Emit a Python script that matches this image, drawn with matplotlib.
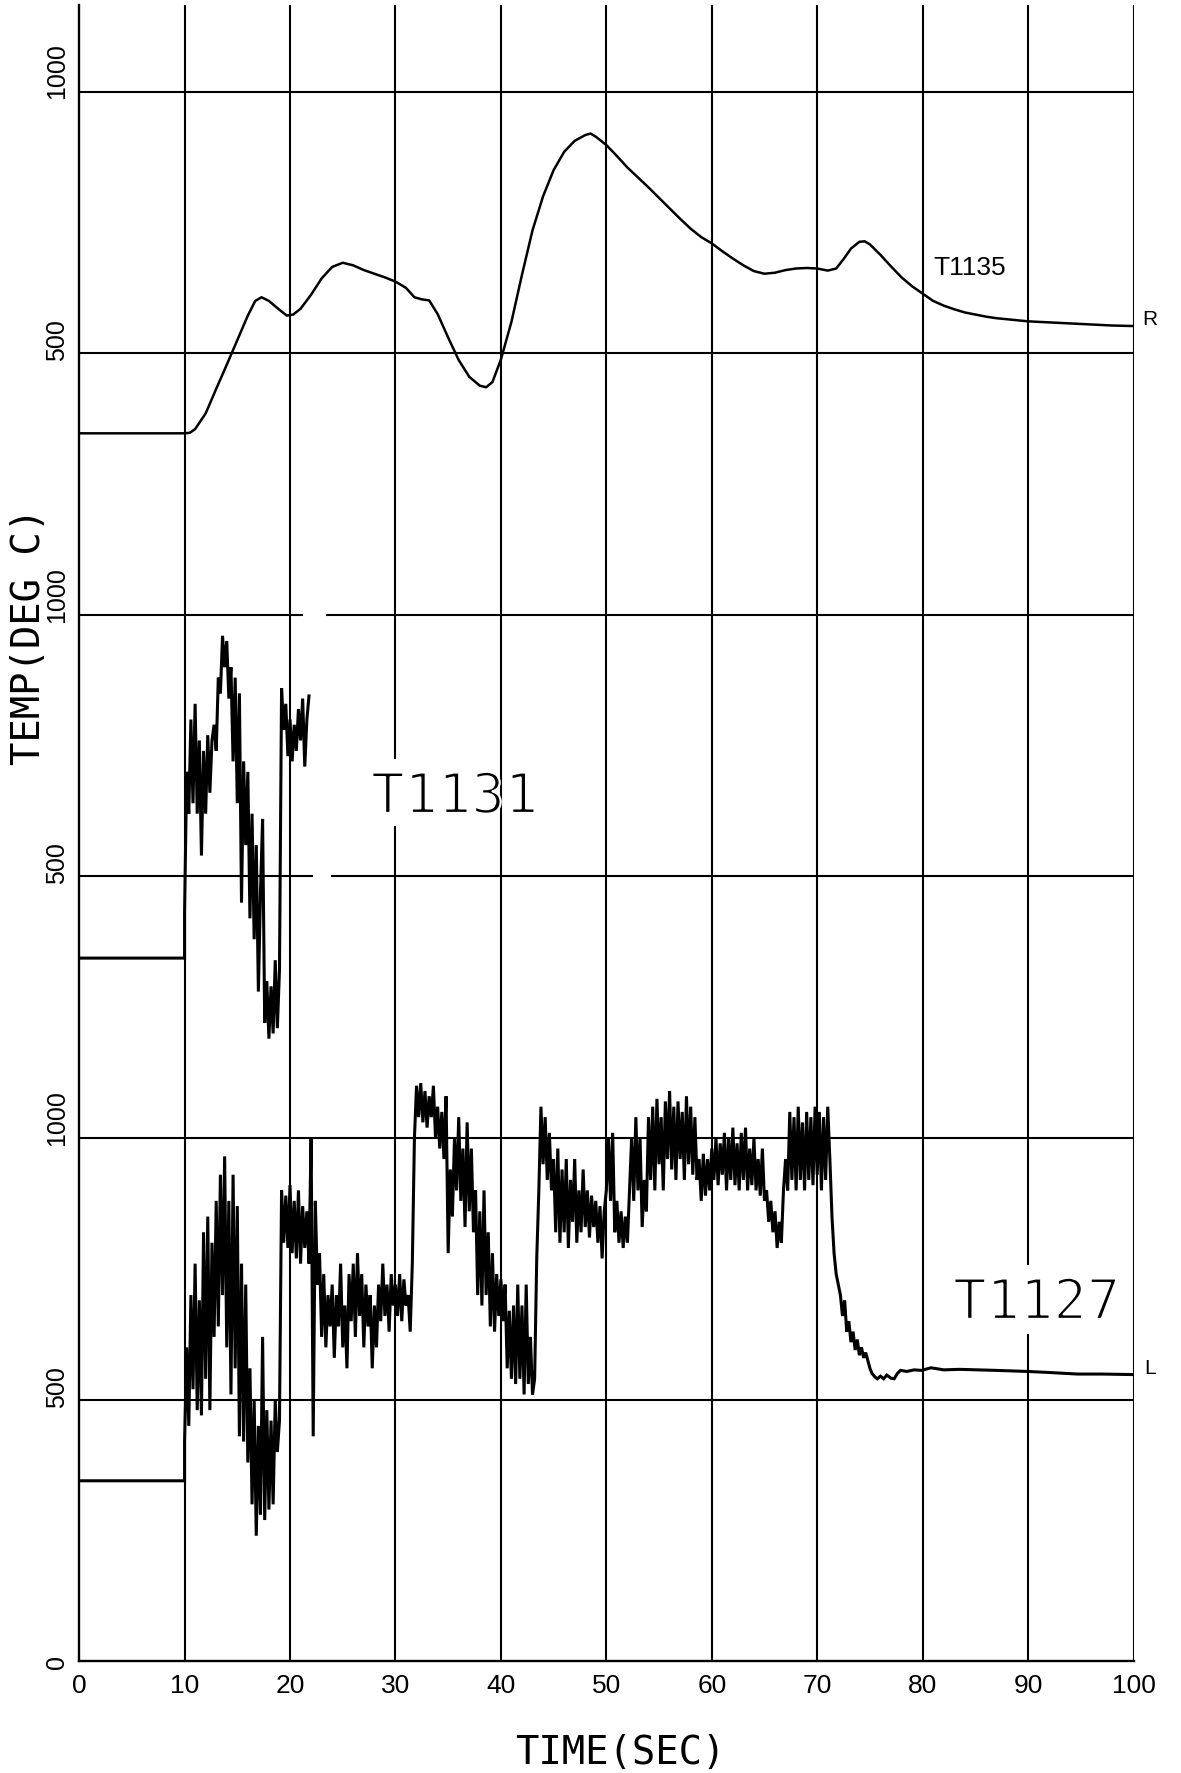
import numpy as np
import matplotlib
matplotlib.use("Agg")
import matplotlib.pyplot as plt
import matplotlib.patheffects as pe

# ---------------- data ----------------
# T1135 (top trace, smooth), time [s] and temperature [deg C]
T1135_t = [0, 10, 10.5, 11, 12, 13, 14, 15, 16, 16.7, 17.3, 18, 19, 19.7, 20.3, 21, 22, 23, 24, 25,
           26, 27, 28, 29, 30, 31, 31.8, 32.5, 33.2, 34, 35, 36, 37, 38, 38.6, 39.2, 40, 41, 42, 43,
           44, 45, 46, 47, 48, 48.5, 49, 50, 51, 52, 53, 54, 55, 56, 57, 58, 59, 60, 61, 62,
           63, 64, 65, 66, 67, 68, 69, 70, 71, 71.8, 72.5, 73.2, 74, 74.5, 75, 76, 77, 78, 79, 80,
           81, 82, 83, 84, 85, 86, 87, 88, 89, 90, 92, 94, 96, 98, 100]
T1135_v = [347, 347, 348, 355, 385, 432, 478, 525, 572, 600, 607, 600, 583, 572, 574, 585, 612, 643, 665, 673,
           668, 659, 652, 645, 637, 625, 607, 603, 601, 575, 530, 487, 455, 438, 435, 445, 488, 560, 650, 735,
           800, 850, 885, 906, 917, 920, 914, 898, 877, 855, 836, 817, 797, 777, 757, 738, 722, 710, 695, 681,
           668, 657, 652, 654, 659, 662, 663, 662, 658, 662, 680, 700, 713, 714, 708, 688, 666, 645, 628, 614,
           600, 591, 584, 578, 574, 570, 567, 565, 563, 561, 559, 557, 555, 553, 552]

# T1131 (middle trace): initial level, then samples every 0.2 s from t = 10.0 s
T1131_initial = 344
T1131_start, T1131_dt = 10.0, 0.2
T1131_v = [430, 700, 620, 800, 640, 830, 620, 760, 540, 740,
           620, 770, 660, 760, 790, 740, 880, 850, 960, 900,
           950, 840, 900, 720, 880, 640, 850, 450, 720, 560,
           700, 420, 620, 380, 560, 280, 470, 610, 220, 300,
           190, 290, 200, 340, 210, 320, 860, 780, 830, 730,
           800, 720, 790, 740, 820, 760, 840, 710, 800, 845]

# T1127 (bottom trace): initial level, samples every 0.2 s from 10.0 s to 72.0 s, then tail
T1127_initial = 345
T1127_start, T1127_dt = 10.0, 0.2
T1127_v = [420, 600, 450, 700, 520, 760, 480, 690, 470, 820,
           540, 850, 480, 800, 620, 880, 640, 930, 700, 965,
           600, 880, 510, 930, 560, 870, 430, 760, 420, 720,
           380, 560, 300, 500, 240, 450, 280, 620, 270, 480,
           290, 460, 300, 500, 400, 460, 900, 800, 890, 790,
           910, 780, 880, 770, 900, 760, 870, 790, 860, 760,
           1000, 430, 880, 720, 780, 620, 740, 600, 700, 640,
           720, 580, 700, 640, 760, 600, 680, 560, 740, 650,
           760, 620, 780, 660, 740, 600, 720, 640, 700, 560,
           680, 600, 720, 650, 760, 660, 720, 630, 740, 680,
           720, 660, 740, 650, 730, 680, 700, 630, 760, 1000,
           1100, 1040, 1105, 1030, 1090, 1020, 1080, 1040, 1100, 1000,
           1060, 980, 1050, 960, 1080, 780, 940, 850, 1000, 900,
           1040, 880, 980, 830, 1030, 860, 980, 820, 900, 700,
           860, 680, 900, 700, 820, 640, 780, 630, 740, 660,
           730, 650, 720, 560, 670, 540, 680, 530, 720, 540,
           680, 510, 720, 530, 620, 510, 540, 770, 900, 1060,
           950, 1040, 920, 1010, 900, 960, 820, 980, 800, 940,
           820, 960, 790, 920, 840, 960, 800, 900, 820, 940,
           830, 900, 810, 890, 830, 880, 800, 870, 770, 860,
           900, 1000, 880, 1010, 820, 880, 800, 860, 790, 850,
           800, 900, 1000, 880, 1040, 900, 1000, 830, 920, 860,
           1040, 920, 1060, 900, 1075, 950, 1040, 900, 1070, 960,
           1090, 940, 1060, 920, 1070, 960, 1050, 920, 1080, 950,
           1060, 930, 1040, 920, 960, 880, 970, 890, 960, 900,
           980, 920, 1000, 910, 990, 930, 1010, 900, 1000, 920,
           1020, 910, 990, 900, 1010, 920, 1020, 900, 980, 910,
           1000, 900, 960, 890, 980, 880, 900, 840, 880, 820,
           860, 790, 840, 800, 900, 960, 900, 1050, 920, 1040,
           900, 1060, 920, 1030, 900, 1050, 920, 1040, 910, 1060,
           930, 1050, 900, 1040, 920, 1060, 960, 850, 780, 740,
           720]
T1127_tail_t = [72.2, 72.4, 72.6, 72.8, 73.0, 73.2, 73.4, 73.6, 73.8, 74.0, 74.2, 74.4, 74.6, 74.8,
                75.0, 75.2, 75.5, 75.7, 76.0, 76.3, 76.6, 77.0, 77.3, 77.6, 77.9, 78.5, 79.2, 79.9,
                80.8, 82.0, 83.5, 85.2, 87.0, 89.9, 92.0, 94.7, 97.0, 100.0]
T1127_tail_v = [700, 660, 690, 630, 650, 610, 630, 595, 615, 585, 600, 580, 590, 575,
                560, 550, 543, 540, 545, 540, 547, 541, 540, 550, 556, 554, 557, 556,
                561, 557, 558, 557, 556, 554, 552, 549, 549, 548]

# offsets of the three stacked panels (deg C)
offsets = {"T1127": 0, "T1131": 1000, "T1135": 2000}

x_ticks = [0, 10, 20, 30, 40, 50, 60, 70, 80, 90, 100]
y_tick_pos = [0, 500, 1000, 1500, 2000, 2500, 3000]
y_tick_text = ["0", "500", "1000", "500", "1000", "500", "1000"]

# ---------------- figure ----------------
fig = plt.figure(figsize=(11.81, 17.73), dpi=100)
ax = fig.add_axes([0.0670, 0.0630, 0.8928, 0.9340])
YTOP = 3165
ax.set_xlim(0, 100)
ax.set_ylim(0, YTOP)
for s in ("top", "right"):
    ax.spines[s].set_visible(False)
for s in ("left", "bottom"):
    ax.spines[s].set_linewidth(1.7)
ax.set_yticks([])
ax.set_xticks(x_ticks)
ax.set_xticklabels([str(v) for v in x_ticks], fontsize=19, family="Liberation Sans")
ax.tick_params(axis="x", length=0, pad=9)

grid_kw = dict(color="black", lw=1.5, zorder=1)
# vertical grid lines (with the gaps left around the big labels)
for xv in x_ticks[1:]:
    if xv == 30:
        ax.vlines(xv, 0, 1597, **grid_kw)
        ax.vlines(xv, 1724, YTOP, **grid_kw)
    elif xv == 90:
        ax.vlines(xv, 0, 626, **grid_kw)
        ax.vlines(xv, 757, YTOP, **grid_kw)
    else:
        ax.vlines(xv, 0, YTOP, **grid_kw)
# horizontal grid lines
for yv in y_tick_pos[1:]:
    if yv == 2000:
        ax.hlines(yv, 0, 21.2, **grid_kw)
        ax.hlines(yv, 23.4, 100, **grid_kw)
    elif yv == 1500:
        ax.hlines(yv, 0, 22.2, **grid_kw)
        ax.hlines(yv, 23.9, 100, **grid_kw)
    else:
        ax.hlines(yv, 0, 100, **grid_kw)

# y tick labels (rotated, as drawn by the plotter)
for yv, lab in zip(y_tick_pos, y_tick_text):
    ax.text(-2.1, yv - 15, lab, rotation=90, ha="center", va="bottom",
            fontsize=18, family="Liberation Sans", clip_on=False)

smooth_kw = dict(color="black", lw=1.8, zorder=3)
noisy_kw = dict(color="black", lw=2.2, zorder=3, solid_joinstyle="miter")

# T1135
ax.plot(T1135_t, np.array(T1135_v) + offsets["T1135"], **smooth_kw)

# T1131
t31 = T1131_start + T1131_dt * np.arange(len(T1131_v))
x31 = np.concatenate([[0.0, T1131_start], t31])
y31 = np.concatenate([[T1131_initial, T1131_initial], T1131_v]) + offsets["T1131"]
ax.plot(x31, y31, **noisy_kw)

# T1127
t27 = T1127_start + T1127_dt * np.arange(len(T1127_v))
x27 = np.concatenate([[0.0, T1127_start], t27, T1127_tail_t])
y27 = np.concatenate([[T1127_initial, T1127_initial], T1127_v, T1127_tail_v]) + offsets["T1127"]
ax.plot(x27, y27, **noisy_kw)

# labels
ax.text(81.0, 2663, "T1135", fontsize=19, family="Liberation Sans", ha="left", va="center")
ax.text(100.8, 2565, "R", fontsize=15, family="Liberation Sans", ha="left", va="center", clip_on=False)
ax.text(101.0, 560, "L", fontsize=15, family="Liberation Sans", ha="left", va="center", clip_on=False)
thin = [pe.Stroke(linewidth=1.6, foreground="white")]
big_kw = dict(fontsize=40, family="DejaVu Sans Mono", ha="center", va="center", path_effects=thin)
ax.text(35.6, 1650, "T1131", **big_kw)
ax.text(90.8, 683, "T1127", **big_kw)

fig.text(0.525, 0.0115, "TIME(SEC)", fontsize=28, family="DejaVu Sans Mono", ha="center", va="center")
ax.text(-4.8, 1958, "TEMP(DEG C)", rotation=90, fontsize=28, family="DejaVu Sans Mono",
        ha="center", va="center", clip_on=False)

fig.savefig("out.png", dpi=100)
